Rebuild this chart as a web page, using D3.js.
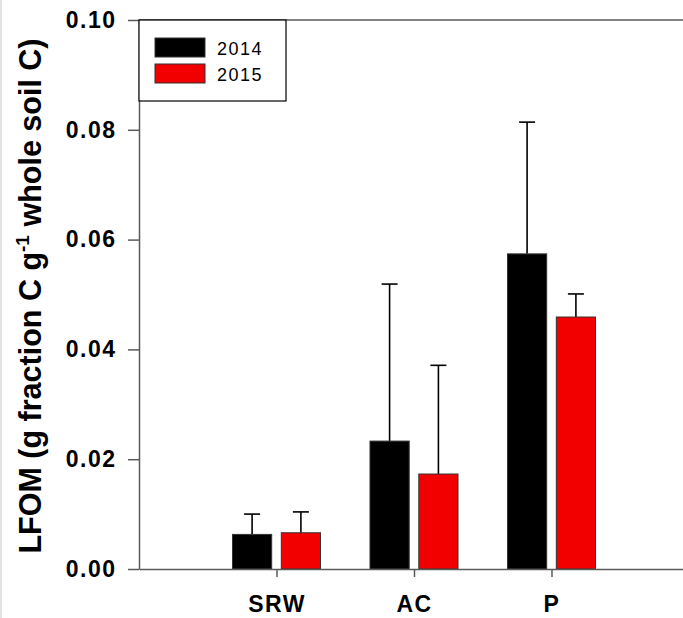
<!DOCTYPE html>
<meta charset="utf-8">
<script src="https://d3js.org/d3.v7.min.js"></script>
<style>
  body { margin: 0; background: #fff; }
  svg { display: block; }
  text { font-family: "Liberation Sans", Arial, sans-serif; }
</style>
<div id="chart"></div>
<script>

// data
var categories = ["SRW", "AC", "P"];
var years = ["2014", "2015"];
var mean2014 = [0.0063, 0.0233, 0.0574];
var mean2015 = [0.0066, 0.0173, 0.0459];
var se2014 = [0.0037, 0.0286, 0.0240];
var se2015 = [0.0038, 0.0198, 0.0042];
var yTicks = [0, 0.02, 0.04, 0.06, 0.08, 0.10];
var colors = ["#000000", "#f20000"];

var width = 683, height = 618;

var Svg = d3.select("#chart")
  .append("svg")
  .attr("width", width)
  .attr("height", height);

// faint grey edge on the left like the scanned figure
Svg.append("rect")
  .attr("x", 0).attr("y", 0)
  .attr("width", 2).attr("height", height)
  .attr("fill", "#e4e4e4");

// x runs over category slots 0..4, the frame continues past the right edge
var x = d3.scaleLinear().domain([0, 4]).range([139, 689]);
var y = d3.scaleLinear().domain([0, 0.10]).range([569, 20]);

var barW = 0.285, halfGap = 0.035;

var rows = [];
categories.forEach(function(c, i) {
  rows.push({cat: c, pos: i + 1, year: 0, v: mean2014[i], e: se2014[i]});
  rows.push({cat: c, pos: i + 1, year: 1, v: mean2015[i], e: se2015[i]});
});

function barLeft(d) {
  return d.year == 0 ? x(d.pos - halfGap - barW) : x(d.pos + halfGap);
}
function barMid(d) {
  return d.year == 0 ? x(d.pos - halfGap - barW / 2) : x(d.pos + halfGap + barW / 2);
}

// error bars first so the bar sits over the stem
var err = Svg.selectAll(".err")
  .data(rows)
  .enter()
  .append("g")
  .attr("class", "err");

err.append("line")
  .attr("x1", barMid).attr("x2", barMid)
  .attr("y1", function(d) { return y(d.v); })
  .attr("y2", function(d) { return y(d.v + d.e); })
  .attr("stroke", "#000")
  .attr("stroke-width", 1.6);

err.append("line")
  .attr("x1", function(d) { return barMid(d) - 8; })
  .attr("x2", function(d) { return barMid(d) + 8; })
  .attr("y1", function(d) { return y(d.v + d.e); })
  .attr("y2", function(d) { return y(d.v + d.e); })
  .attr("stroke", "#000")
  .attr("stroke-width", 1.6);

Svg.selectAll(".bar")
  .data(rows)
  .enter()
  .append("rect")
  .attr("class", "bar")
  .attr("x", barLeft)
  .attr("width", x(barW) - x(0))
  .attr("y", function(d) { return y(d.v); })
  .attr("height", function(d) { return y(0) - y(d.v); })
  .attr("fill", function(d) { return colors[d.year]; })
  .attr("stroke", "#333")
  .attr("stroke-width", 1);

// y axis
var yAxis = Svg.append("g")
  .attr("transform", "translate(" + x(0) + ",0)")
  .call(d3.axisLeft(y).tickValues(yTicks).tickSize(11).tickSizeOuter(0).tickPadding(11.5)
    .tickFormat(d3.format(".2f")));

yAxis.selectAll("text")
  .attr("font-size", 23)
  .attr("font-weight", "bold")
  .attr("fill", "#000")
  .style("letter-spacing", "1.5px");

// x axis
var xAxis = Svg.append("g")
  .attr("transform", "translate(0," + y(0) + ")")
  .call(d3.axisBottom(x).tickValues([1, 2, 3]).tickSize(8).tickSizeOuter(0).tickPadding(19)
    .tickFormat(function(d) { return categories[d - 1]; }));

xAxis.selectAll("text")
  .attr("font-size", 23)
  .attr("font-weight", "bold")
  .attr("fill", "#000")
  .style("letter-spacing", "1.5px");

// top edge of the frame
Svg.append("line")
  .attr("x1", x(0)).attr("x2", x(4))
  .attr("y1", y(0.10)).attr("y2", y(0.10));

Svg.selectAll(".domain, .tick line, line:not(.err line)")
  .attr("stroke", "#5a5a5a")
  .attr("stroke-width", 1.5);
Svg.selectAll(".err line").attr("stroke", "#000");

// y title
var title = Svg.append("text")
  .attr("transform", "translate(41," + 296 + ") rotate(-90)")
  .attr("text-anchor", "middle")
  .attr("font-size", 30.5)
  .attr("font-weight", "bold")
  .attr("fill", "#000");
title.append("tspan").text("LFOM (g fraction C g");
title.append("tspan").attr("dy", -12).attr("font-size", 19).text("-1");
title.append("tspan").attr("dy", 12).text(" whole soil C)");

// legend
var legend = Svg.append("g");
legend.append("rect")
  .attr("x", x(0)).attr("y", y(0.10))
  .attr("width", 147).attr("height", 81)
  .attr("fill", "#fff")
  .attr("stroke", "#000")
  .attr("stroke-width", 1.2);

var items = legend.selectAll(".item")
  .data(years)
  .enter()
  .append("g")
  .attr("transform", function(d, i) { return "translate(155," + (38 + i * 26) + ")"; });

items.append("rect")
  .attr("width", 50).attr("height", 19)
  .attr("fill", function(d, i) { return colors[i]; })
  .attr("stroke", "#333");

items.append("text")
  .attr("x", 62).attr("y", 16.5)
  .attr("font-size", 18)
  .style("letter-spacing", "1.5px")
  .text(function(d) { return d; });

</script>
